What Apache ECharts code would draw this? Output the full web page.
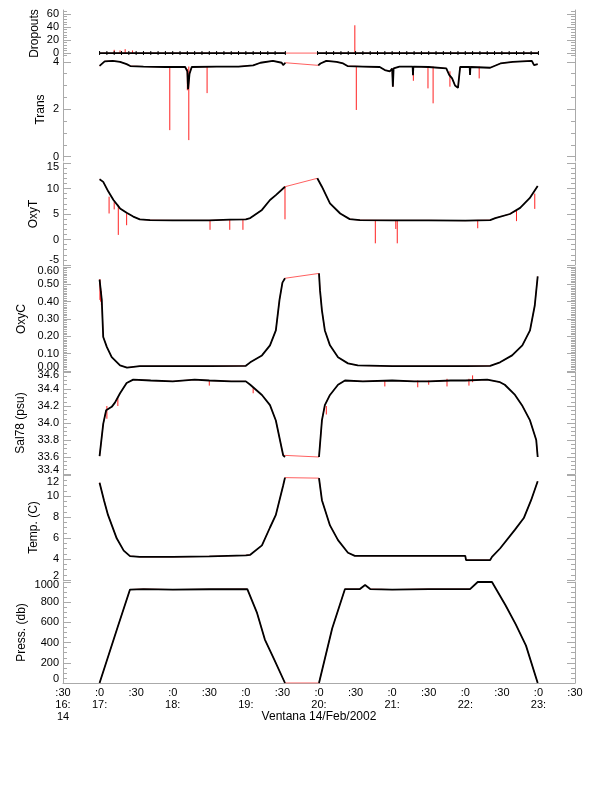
<!DOCTYPE html>
<html>
<head>
<meta charset="utf-8">
<script src="https://cdn.jsdelivr.net/npm/echarts@6/dist/echarts.min.js"></script>
<style>
html, body { margin: 0; padding: 0; background: #fff; }
#chart { width: 612px; height: 785px; }
</style>
</head>
<body>
<div id="chart"></div>
<script>
// time axis is in hours of the day (16.5 = 16:30)
const xTickValues = [16.5, 17, 17.5, 18, 18.5, 19, 19.5, 20, 20.5, 21, 21.5, 22, 22.5, 23, 23.5]
const xTickLabels = [':30\n16:\n14', ':0\n17:', ':30', ':0\n18:', ':30', ':0\n19:', ':30', ':0\n20:', ':30', ':0\n21:', ':30', ':0\n22:', ':30', ':0\n23:', ':30']

// null = no data (black trace breaks, red raw trace joins across)
const dropT = [17.0, 17.1, 17.2, 17.3, 17.4, 17.5, 17.6, 17.7, 17.8, 17.9, 18.0, 18.1, 18.2, 18.3, 18.4, 18.5, 18.6, 18.7, 18.8, 18.9, 19.0, 19.1, 19.2, 19.3, 19.4, 19.54, 19.77, 19.98, 20.1, 20.2, 20.3, 20.4, 20.5, 20.6, 20.7, 20.8, 20.9, 21.0, 21.1, 21.2, 21.3, 21.4, 21.5, 21.6, 21.7, 21.8, 21.9, 22.0, 22.1, 22.2, 22.3, 22.4, 22.5, 22.6, 22.7, 22.8, 22.9, 23.0]
const dropV = [0, 0, 0, 0, 0, 0, 0, 0, 0, 0, 0, 0, 0, 0, 0, 0, 0, 0, 0, 0, 0, 0, 0, 0, 0, 0, null, 0, 0, 0, 0, 0, 0, 0, 0, 0, 0, 0, 0, 0, 0, 0, 0, 0, 0, 0, 0, 0, 0, 0, 0, 0, 0, 0, 0, 0, 0, 0]
const dropSpikes = [[17.2, 0, 5], [17.28, 0, 4], [17.35, 0, 6], [17.45, 0, 4], [20.49, 0, 42.6]]

const transT = [17.0, 17.07, 17.18, 17.28, 17.37, 17.42, 17.6, 17.9, 18.17, 18.2, 18.21, 18.23, 18.26, 18.6, 18.9, 19.1, 19.2, 19.37, 19.49, 19.51, 19.54, 19.77, 19.99, 20.02, 20.1, 20.24, 20.33, 20.39, 20.6, 20.83, 20.9, 20.97, 21.0, 21.01, 21.02, 21.1, 21.28, 21.285, 21.29, 21.5, 21.74, 21.78, 21.82, 21.86, 21.9, 21.93, 22.06, 22.065, 22.07, 22.34, 22.48, 22.65, 22.91, 22.94, 22.99]
const transV = [3.83, 4.02, 4.04, 4.0, 3.9, 3.82, 3.8, 3.78, 3.78, 3.6, 2.85, 3.5, 3.78, 3.8, 3.8, 3.85, 3.96, 4.04, 3.96, 3.86, 3.96, null, 3.85, 3.93, 4.04, 4.0, 3.93, 3.82, 3.8, 3.78, 3.65, 3.6, 3.72, 2.95, 3.72, 3.8, 3.8, 3.44, 3.8, 3.78, 3.72, 3.45, 3.3, 3.0, 2.9, 3.79, 3.78, 3.45, 3.78, 3.75, 3.93, 4.0, 4.04, 3.86, 3.9]
const transSpikes = [[17.96, 3.8, 1.12], [18.2, 3.7, 2.8], [18.22, 3.8, 0.7], [18.47, 3.8, 2.68], [20.51, 3.8, 1.97], [21.29, 3.8, 3.2], [21.49, 3.8, 2.88], [21.56, 3.8, 2.25], [21.79, 3.6, 2.95], [22.19, 3.8, 3.3]]

const oxyTT = [17.0, 17.05, 17.12, 17.19, 17.28, 17.37, 17.46, 17.55, 17.69, 18.0, 18.5, 18.78, 19.0, 19.06, 19.22, 19.33, 19.41, 19.535, 19.77, 19.977, 20.04, 20.15, 20.29, 20.42, 20.56, 21.0, 21.5, 22.0, 22.34, 22.41, 22.61, 22.75, 22.88, 22.99]
const oxyTV = [11.8, 11.3, 9.4, 7.75, 6.1, 5.25, 4.5, 3.96, 3.8, 3.75, 3.75, 3.9, 3.95, 4.2, 5.8, 7.75, 8.7, 10.35, null, 12.0, 10.35, 7.1, 5.1, 4.0, 3.8, 3.75, 3.75, 3.7, 3.8, 4.2, 5.0, 6.2, 8.1, 10.5]
const oxyTSpikes = [[17.13, 8.4, 5.1], [17.2, 7.4, 5.9], [17.256, 6.8, 0.9], [17.37, 5.1, 2.8], [18.51, 3.75, 1.9], [18.78, 3.85, 1.9], [18.96, 3.95, 1.9], [19.535, 10.35, 3.96], [20.77, 3.8, -0.75], [21.05, 3.8, 2.06], [21.07, 3.8, -0.75], [22.17, 3.7, 2.2], [22.7, 5.6, 3.6], [22.95, 9.0, 6.0]]

const oxyCT = [17.0, 17.03, 17.05, 17.1, 17.166, 17.28, 17.375, 17.55, 18.0, 18.5, 19.0, 19.06, 19.22, 19.33, 19.41, 19.46, 19.5, 19.535, 19.77, 20.0, 20.014, 20.04, 20.08, 20.15, 20.26, 20.396, 20.53, 21.0, 21.5, 22.0, 22.34, 22.475, 22.64, 22.78, 22.885, 22.95, 22.99]
const oxyCV = [0.527, 0.41, 0.196, 0.138, 0.08, 0.032, 0.02, 0.028, 0.028, 0.028, 0.03, 0.05, 0.09, 0.148, 0.234, 0.41, 0.51, 0.535, null, 0.563, 0.465, 0.35, 0.234, 0.148, 0.079, 0.044, 0.032, 0.028, 0.028, 0.028, 0.03, 0.05, 0.09, 0.148, 0.234, 0.378, 0.546]
const oxyCSpikes = [[17.005, 0.53, 0.41], [17.015, 0.48, 0.4], [17.025, 0.46, 0.38]]

const salT = [17.0, 17.05, 17.09, 17.166, 17.21, 17.28, 17.37, 17.46, 17.7, 18.0, 18.3, 18.5, 18.8, 19.0, 19.06, 19.22, 19.33, 19.41, 19.51, 19.535, 19.77, 20.0, 20.04, 20.08, 20.15, 20.26, 20.355, 20.6, 21.0, 21.3, 21.5, 21.8, 22.0, 22.3, 22.475, 22.54, 22.68, 22.775, 22.885, 22.97, 22.99]
const salV = [33.61, 33.99, 34.15, 34.19, 34.24, 34.35, 34.47, 34.51, 34.5, 34.49, 34.51, 34.5, 34.49, 34.49, 34.45, 34.33, 34.21, 34.03, 33.62, 33.6, null, 33.6, 34.03, 34.21, 34.33, 34.45, 34.5, 34.49, 34.5, 34.49, 34.49, 34.5, 34.5, 34.51, 34.48, 34.45, 34.33, 34.21, 34.03, 33.8, 33.6]
const salSpikes = [[17.1, 34.2, 34.05], [17.25, 34.3, 34.2], [18.5, 34.5, 34.44], [19.1, 34.42, 34.35], [20.1, 34.2, 34.1], [20.9, 34.5, 34.43], [21.35, 34.5, 34.42], [21.5, 34.5, 34.45], [21.75, 34.52, 34.43], [22.05, 34.52, 34.44], [22.1, 34.56, 34.48]]

const tempT = [17.0, 17.06, 17.115, 17.234, 17.33, 17.416, 17.55, 18.0, 18.5, 19.0, 19.06, 19.22, 19.33, 19.41, 19.51, 19.535, 19.77, 20.0, 20.04, 20.15, 20.26, 20.396, 20.49, 21.0, 21.5, 22.0, 22.01, 22.34, 22.365, 22.475, 22.68, 22.8, 22.9, 22.99]
const tempV = [11.27, 9.6, 8.2, 5.97, 4.8, 4.28, 4.2, 4.2, 4.25, 4.35, 4.4, 5.3, 7.0, 8.2, 11.0, 11.75, null, 11.7, 9.6, 7.2, 5.8, 4.6, 4.3, 4.3, 4.3, 4.3, 3.9, 3.9, 4.2, 5.0, 6.8, 7.9, 9.6, 11.4]

const pressT = [17.0, 17.25, 17.416, 17.6, 18.0, 18.5, 19.02, 19.15, 19.26, 19.39, 19.535, 19.77, 20.0, 20.18, 20.355, 20.56, 20.63, 20.7, 21.0, 21.5, 22.0, 22.065, 22.17, 22.365, 22.55, 22.69, 22.83, 22.99]
const pressV = [0, 560, 925, 930, 925, 928, 930, 700, 430, 230, 0, null, 0, 540, 930, 930, 970, 930, 925, 930, 930, 930, 1000, 1000, 770, 580, 370, 0]

const FONT = 'Liberation Sans'
const AXIS_GREY = '#aaaaaa'

function steps(a, b, s) {
  const out = []
  for (let v = a; v <= b + s / 1000; v += s) out.push(+v.toFixed(4))
  return out
}
function minorsOf(all, majors) {
  return all.filter(v => !majors.some(m => Math.abs(m - v) < 1e-6))
}

const panels = [
  {name: 'Dropouts', T: dropT, V: dropV, spikes: dropSpikes, top: 10, height: 47, min: -6, max: 66,
    majors: [0, 20, 40, 60], minors: minorsOf(steps(-4, 64, 4), [0, 20, 40, 60]), dec: 0, gap: 22, marks: true},
  {name: 'Trans', T: transT, V: transV, spikes: transSpikes, top: 58, height: 103, min: -0.18, max: 4.16,
    majors: [0, 2, 4], minors: minorsOf(steps(0, 4, 0.5), [0, 2, 4]), dec: 0, gap: 16},
  {name: 'OxyT', T: oxyTT, V: oxyTV, spikes: oxyTSpikes, top: 163, height: 102, min: -5, max: 15,
    majors: steps(-5, 15, 5), minors: minorsOf(steps(-5, 15, 1), steps(-5, 15, 5)), dec: 0, gap: 23, padTop: 7, padBot: 10},
  {name: 'OxyC', T: oxyCT, V: oxyCV, spikes: oxyCSpikes, top: 267, height: 104, min: 0, max: 0.6,
    majors: steps(0, 0.6, 0.1), minors: minorsOf(steps(0, 0.6, 0.01), steps(0, 0.6, 0.1)), dec: 2, gap: 35, padTop: 8, padBot: 8},
  {name: 'Sal78 (psu)', T: salT, V: salV, spikes: salSpikes, top: 372, height: 102, min: 33.4, max: 34.6,
    majors: steps(33.4, 34.6, 0.2), minors: minorsOf(steps(33.4, 34.6, 0.05), steps(33.4, 34.6, 0.2)), dec: 1, gap: 36, padTop: 6, padBot: 8},
  {name: 'Temp. (C)', T: tempT, V: tempV, spikes: [], top: 475, height: 105, min: 2, max: 12,
    majors: steps(2, 12, 2), minors: minorsOf(steps(2, 12, 0.5), steps(2, 12, 2)), dec: 0, gap: 23, padTop: 14, padBot: 9},
  {name: 'Press. (db)', T: pressT, V: pressV, spikes: [], top: 582, height: 101, min: 0, max: 1000,
    majors: steps(0, 1000, 200), minors: minorsOf(steps(0, 1000, 50), steps(0, 1000, 200)), dec: 0, gap: 35, padTop: 6, padBot: 9}
]

const grid = [], xAxis = [], yAxis = [], series = []

panels.forEach((p, i) => {
  const last = i === panels.length - 1
  grid.push({left: 63, right: 37, top: p.top, height: p.height, outerBoundsMode: 'none'})

  xAxis.push({
    gridIndex: i, type: 'value', min: 16.5, max: 23.5, interval: 0.5,
    show: last,
    splitLine: {show: false},
    axisLine: {show: true, lineStyle: {color: AXIS_GREY}},
    axisTick: {show: false},
    axisLabel: {
      show: last, margin: 4, color: '#000', fontFamily: FONT, fontSize: 11, lineHeight: 12,
      showMinLabel: true, showMaxLabel: true,
      formatter: v => xTickLabels[Math.round((v - 16.5) * 2)]
    }
  })

  const base = {
    gridIndex: i, type: 'value', min: p.min, max: p.max,
    splitLine: {show: false},
    axisLine: {show: true, lineStyle: {color: AXIS_GREY}},
    axisLabel: {show: false},
    axisTick: {show: true, inside: true, length: 8, lineStyle: {color: AXIS_GREY}, customValues: p.majors}
  }
  const minorTick = {show: true, inside: true, length: 4, lineStyle: {color: AXIS_GREY}, customValues: p.minors}
  const txt = {fontFamily: FONT, fontSize: 11, color: '#000'}
  yAxis.push({
    ...base, position: 'left',
    name: p.name, nameLocation: 'middle', nameGap: p.gap, nameRotate: 90, nameMoveOverlap: false,
    nameTextStyle: {fontFamily: FONT, fontSize: 12, color: '#000'},
    axisLabel: {
      show: true, customValues: p.majors, margin: 4, ...txt,
      showMinLabel: true, showMaxLabel: true, hideOverlap: false,
      formatter: v => {
        const s = v.toFixed(p.dec)
        if (p.padTop && Math.abs(v - p.max) < 1e-6) return '{t|' + s + '}'
        if (p.padBot && Math.abs(v - p.min) < 1e-6) return '{b|' + s + '}'
        return s
      },
      rich: {
        t: {...txt, padding: [p.padTop || 0, 0, 0, 0]},
        b: {...txt, padding: [0, 0, p.padBot || 0, 0]}
      }
    }
  })
  yAxis.push({...base, position: 'left', axisLine: {show: false}, axisTick: minorTick})
  yAxis.push({...base, position: 'right'})
  yAxis.push({...base, position: 'right', axisLine: {show: false}, axisTick: minorTick})

  const pts = p.T.map((t, k) => [t, p.V[k] === null ? '-' : p.V[k]])
  const spk = []
  p.spikes.forEach(s => { spk.push([s[0], s[1]], [s[0], s[2]], [s[0], '-']) })

  // raw trace in red, joined over the gap
  series.push({
    type: 'line', xAxisIndex: i, yAxisIndex: i * 4, data: pts, connectNulls: true,
    symbol: 'none', z: 1, silent: true,
    lineStyle: {color: '#ff6060', width: 1}
  })
  series.push({
    type: 'line', xAxisIndex: i, yAxisIndex: i * 4, data: spk, connectNulls: false,
    symbol: 'none', z: 2, silent: true,
    lineStyle: {color: '#ff2020', width: 1}
  })
  series.push({
    type: 'line', xAxisIndex: i, yAxisIndex: i * 4, data: pts, connectNulls: false,
    symbol: p.marks ? 'rect' : 'none', symbolSize: [1, 4], showSymbol: !!p.marks,
    itemStyle: {color: '#000'}, z: 3, silent: true,
    lineStyle: {color: '#000', width: 1.8}
  })
})

const option = {
  backgroundColor: '#fff',
  animation: false,
  title: {
    text: 'Ventana 14/Feb/2002',
    left: 319, top: 711, padding: 0, textAlign: 'center',
    textStyle: {fontFamily: FONT, fontSize: 12, fontWeight: 'normal', color: '#000'}
  },
  grid,
  xAxis,
  yAxis,
  series
}

const myChart = echarts.init(document.getElementById('chart'))
myChart.setOption(option)
</script>
</body>
</html>
